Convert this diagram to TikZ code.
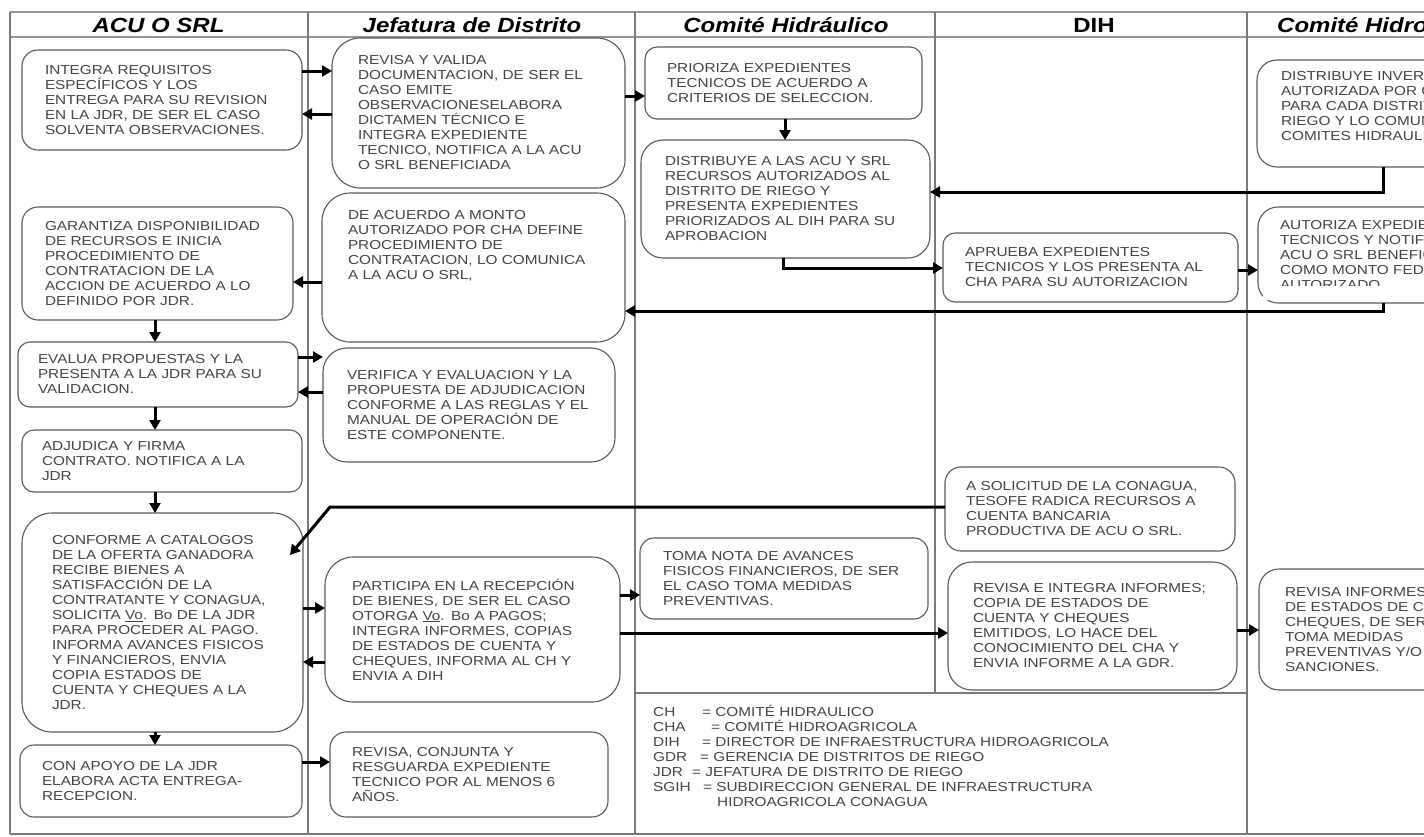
\documentclass[tikz,border=0pt]{standalone}
\usepackage{fontspec}
\setmainfont{Liberation Sans}
\newfontfamily\bxfont[FakeStretch=1.18]{Liberation Sans}
\newfontfamily\hdfont[FakeStretch=1.17]{Liberation Sans}
\usetikzlibrary{arrows.meta,calc}
\definecolor{txt}{HTML}{444444}
\definecolor{lane}{HTML}{7A7A7A}
\definecolor{bord}{HTML}{5A5A5A}
\begin{document}
\begin{tikzpicture}[x=1pt,y=-1pt,
  box/.style={draw=bord, line width=1.1pt, fill=white, rounded corners=#1, align=left,
    font=\bxfont\fontsize{13}{15}\selectfont, text=txt, outer sep=0pt, inner ysep=0pt},
  box/.default=16pt,
  conn/.style={draw=black, line width=3pt, -{Triangle[length=10pt,width=11pt]}},
  hd/.style={font=\hdfont\bfseries\itshape\fontsize{20.5}{22}\selectfont, anchor=base, inner sep=0pt},
  hdup/.style={font=\hdfont\bfseries\fontsize{20.5}{22}\selectfont, anchor=base, inner sep=0pt},
  lg/.style={font=\bxfont\fontsize{13}{15}\selectfont, text=txt, anchor=base west, inner sep=0pt},
  lanel/.style={draw=lane, line width=1.3pt},
  hdl/.style={draw=lane!80, line width=2pt}]

\useasboundingbox (0,0) rectangle (1424,836);
\clip (0,0) rectangle (1424,836);
\fill[white] (0,0) rectangle (1424,836);

% swimlane frame
\draw[hdl] (10,12) -- (1424,12);
\draw[hdl] (10,37) -- (1424,37);
\draw[lanel] (10,12) -- (10,834);
\draw[lanel] (10,834) -- (1424,834);
\draw[lanel] (308,12) -- (308,834);
\draw[lanel] (635,12) -- (635,834);
\draw[lanel] (935,12) -- (935,693);
\draw[lanel] (1247,12) -- (1247,834);
\draw[lanel] (635,693) -- (1247,693);

% headers
\node[hd] (h1) at (158.5,32) {ACU O SRL};
\node[hd] (h2) at (472,32) {Jefatura de Distrito};
\node[hd] (h3) at (786,32) {Comité Hidráulico};
\node[hdup] (h4) at (1094,32) {DIH};
\node[hd, anchor=base west] (h5) at (1277,32) {Comité Hidroagrícola};

% ACU O SRL lane
\node[box, minimum width=280pt, minimum height=100pt, text width=234pt, inner xsep=23pt] (A1) at (162,100)
 {INTEGRA REQUISITOS\\ESPECÍFICOS Y LOS\\ENTREGA PARA SU REVISION\\EN LA JDR, DE SER EL CASO\\SOLVENTA OBSERVACIONES.};
\node[box, minimum width=271pt, minimum height=113pt, text width=225pt, inner xsep=23pt] (A2) at (157.5,263.5)
 {GARANTIZA DISPONIBILIDAD\\DE RECURSOS E INICIA\\PROCEDIMIENTO DE\\CONTRATACION DE LA\\ACCION DE ACUERDO A LO\\DEFINIDO POR JDR.};
\node[box=12pt, minimum width=280pt, minimum height=65pt, text width=240pt, inner xsep=20pt] (A3) at (158,374.5)
 {EVALUA PROPUESTAS Y LA\\PRESENTA A LA JDR PARA SU\\VALIDACION.};
\node[box=12pt, minimum width=280pt, minimum height=62pt, text width=240pt, inner xsep=20pt] (A4) at (162,461)
 {ADJUDICA Y FIRMA\\CONTRATO. NOTIFICA A LA\\JDR};
\node[box=30pt, minimum width=281pt, minimum height=219pt, text width=221pt, inner xsep=30pt] (A5) at (162.5,622.5)
 {CONFORME A CATALOGOS\\DE LA OFERTA GANADORA\\RECIBE BIENES A\\SATISFACCIÓN  DE LA\\CONTRATANTE Y CONAGUA,\\SOLICITA \underline{Vo}. Bo DE LA JDR\\PARA PROCEDER AL PAGO.\\INFORMA AVANCES FISICOS\\Y FINANCIEROS, ENVIA\\COPIA ESTADOS DE\\CUENTA Y CHEQUES A LA\\JDR.};
\node[box=14pt, minimum width=282pt, minimum height=72pt, text width=238pt, inner xsep=22pt] (A6) at (161,781)
 {CON APOYO DE LA JDR\\ELABORA ACTA ENTREGA-\\RECEPCION.};

% Jefatura lane
\node[box=28pt, minimum width=293pt, minimum height=150pt, text width=241pt, inner xsep=26pt] (J1) at (478.5,113)
 {REVISA Y VALIDA\\DOCUMENTACION, DE SER EL\\CASO EMITE\\OBSERVACIONESELABORA\\DICTAMEN TÉCNICO E\\INTEGRA EXPEDIENTE\\TECNICO, NOTIFICA A LA ACU\\O SRL BENEFICIADA};
\node[box=28pt, minimum width=303pt, minimum height=149pt, text width=251pt, inner xsep=26pt] (J2) at (473.5,267.5)
 {DE ACUERDO A MONTO\\AUTORIZADO POR CHA DEFINE\\PROCEDIMIENTO DE\\CONTRATACION, LO COMUNICA\\A LA ACU O SRL,\\\mbox{}\\\mbox{}\\\mbox{}};
\node[box=24pt, minimum width=292pt, minimum height=114pt, text width=244pt, inner xsep=24pt] (J3) at (469,405)
 {VERIFICA Y EVALUACION Y LA\\PROPUESTA DE ADJUDICACION\\CONFORME A LAS REGLAS Y EL\\MANUAL DE OPERACIÓN DE\\ESTE COMPONENTE.};
\node[box=28pt, minimum width=295pt, minimum height=145pt, text width=241pt, inner xsep=27pt] (J4) at (472.5,629.5)
 {PARTICIPA EN LA RECEPCIÓN\\DE BIENES, DE SER EL CASO\\OTORGA \underline{Vo}. Bo A PAGOS;\\INTEGRA INFORMES, COPIAS\\DE ESTADOS DE CUENTA Y\\CHEQUES, INFORMA AL CH Y\\ENVIA A DIH};
\node[box=16pt, minimum width=278pt, minimum height=85pt, text width=234pt, inner xsep=22pt] (J5) at (469,774.5)
 {REVISA, CONJUNTA Y\\RESGUARDA EXPEDIENTE\\TECNICO POR AL MENOS 6\\AÑOS.};

% Comite Hidraulico lane
\node[box=12pt, minimum width=277pt, minimum height=72pt, text width=233pt, inner xsep=22pt] (C1) at (783.5,83)
 {PRIORIZA EXPEDIENTES\\TECNICOS DE ACUERDO A\\CRITERIOS DE SELECCION.};
\node[box=22pt, minimum width=289pt, minimum height=118pt, text width=241pt, inner xsep=24pt] (C2) at (785.5,199)
 {DISTRIBUYE A  LAS ACU Y SRL\\RECURSOS AUTORIZADOS AL\\DISTRITO DE RIEGO Y\\PRESENTA EXPEDIENTES\\PRIORIZADOS AL DIH PARA SU\\APROBACION};
\node[box=14pt, minimum width=288pt, minimum height=81pt, text width=242pt, inner xsep=23pt] (C3) at (784,578.5)
 {TOMA NOTA DE AVANCES\\FISICOS FINANCIEROS, DE SER\\EL CASO TOMA MEDIDAS\\PREVENTIVAS.};

% DIH lane
\node[box=12pt, minimum width=295pt, minimum height=69pt, text width=251pt, inner xsep=22pt] (D1) at (1090.5,267.5)
 {APRUEBA EXPEDIENTES\\TECNICOS Y LOS PRESENTA AL\\CHA PARA SU AUTORIZACION};
\node[box=16pt, minimum width=290pt, minimum height=84pt, text width=248pt, inner xsep=21pt] (D2) at (1090,509)
 {A SOLICITUD DE LA CONAGUA,\\TESOFE RADICA RECURSOS A\\CUENTA BANCARIA\\PRODUCTIVA DE ACU O SRL.};
\node[box=24pt, minimum width=289pt, minimum height=128pt, text width=239pt, inner xsep=25pt] (D3) at (1092.5,626)
 {REVISA E INTEGRA INFORMES;\\COPIA DE ESTADOS DE\\CUENTA Y CHEQUES\\EMITIDOS, LO HACE DEL\\CONOCIMIENTO DEL CHA Y\\ENVIA INFORME  A LA GDR.};

% Comite Hidroagricola lane (cut at the right edge)
\node[box=20pt, minimum width=290pt, minimum height=107pt, text width=242pt, inner xsep=24pt] (H1) at (1402,113.5)
 {DISTRIBUYE INVERSION\\AUTORIZADA POR CHA\\PARA CADA DISTRITO DE\\RIEGO Y LO COMUNICA A\\COMITES HIDRAULICOS\\\mbox{}};
\node[box=20pt, minimum width=290pt, minimum height=96pt, text width=246pt, inner xsep=22pt] (H2) at (1403,255)
 {AUTORIZA EXPEDIENTES\\TECNICOS Y  NOTIFICA A LA\\ACU O SRL BENEFICIADA\\COMO  MONTO FEDERAL\\AUTORIZADO};
\fill[white] (1263,286) rectangle (1424,300);
\node[box=20pt, minimum width=290pt, minimum height=121pt, text width=238pt, inner xsep=26pt] (H3) at (1404,629.5)
 {REVISA INFORMES, COPIAS\\DE ESTADOS DE CUENTA Y\\CHEQUES, DE SER EL CASO\\TOMA MEDIDAS\\PREVENTIVAS Y/O\\SANCIONES.};

% legend
\node[lg] (g1a) at (653,716.5) {CH};
\node[lg] (g1b) at (702,716.5) {= COMITÉ HIDRAULICO};
\node[lg] (g2a) at (653,731.5) {CHA};
\node[lg] (g2b) at (711,731.5) {= COMITÉ HIDROAGRICOLA};
\node[lg] (g3a) at (653,746.5) {DIH};
\node[lg] (g3b) at (702,746.5) {= DIRECTOR DE INFRAESTRUCTURA HIDROAGRICOLA};
\node[lg] (g4a) at (653,761.5) {GDR};
\node[lg] (g4b) at (700,761.5) {= GERENCIA DE DISTRITOS DE RIEGO};
\node[lg] (g5a) at (653,776.5) {JDR};
\node[lg] (g5b) at (692,776.5) {= JEFATURA DE DISTRITO DE RIEGO};
\node[lg] (g6a) at (653,791.5) {SGIH};
\node[lg] (g6b) at (703,791.5) {= SUBDIRECCION GENERAL DE INFRAESTRUCTURA};
\node[lg] (g7b) at (717,806.5) {HIDROAGRICOLA CONAGUA};

% connectors
\coordinate (bend) at (330,507);
\coordinate (a5in) at (290,555);

\draw[conn] (A1.east |- 0,71) -- (J1.west |- 0,71);
\draw[conn] (J1.west |- 0,114) -- (A1.east |- 0,114);
\draw[conn] (J1.east |- 0,96) -- (C1.west |- 0,96);
\draw[conn] (C1.south -| 785,0) -- (C2.north -| 785,0);
\draw[conn] (H1.south -| 1383,0) |- (C2.east |- 0,192);
\draw[conn] (C2.south -| 783,0) |- (D1.west |- 0,268);
\draw[conn] (D1.east |- 0,270) -- (H2.west |- 0,270);
\draw[conn] (H2.south -| 1383,0) |- (J2.east |- 0,311);
\draw[conn] (J2.west |- 0,282) -- (A2.east |- 0,282);
\draw[conn] (A2.south -| 155,0) -- (A3.north -| 155,0);
\draw[conn] (A3.east |- 0,357) -- (J3.west |- 0,357);
\draw[conn] (J3.west |- 0,392) -- (A3.east |- 0,392);
\draw[conn] (A3.south -| 155,0) -- (A4.north -| 155,0);
\draw[conn] (A4.south -| 155,0) -- (A5.north -| 155,0);
\draw[conn] (D2.west |- 0,507) -- (bend) -- (a5in);
\draw[conn] (A5.east |- 0,608) -- (J4.west |- 0,608);
\draw[conn] (J4.west |- 0,662) -- (A5.east |- 0,662);
\draw[conn] (J4.east |- 0,595) -- (C3.west |- 0,595);
\draw[conn] (J4.east |- 0,633) -- (D3.west |- 0,633);
\draw[conn] (D3.east |- 0,630) -- (H3.west |- 0,630);
\draw[conn] (A5.south -| 155,0) -- (A6.north -| 155,0);
\draw[conn] (A6.east |- 0,762) -- (J5.west |- 0,762);
\end{tikzpicture}
\end{document}
